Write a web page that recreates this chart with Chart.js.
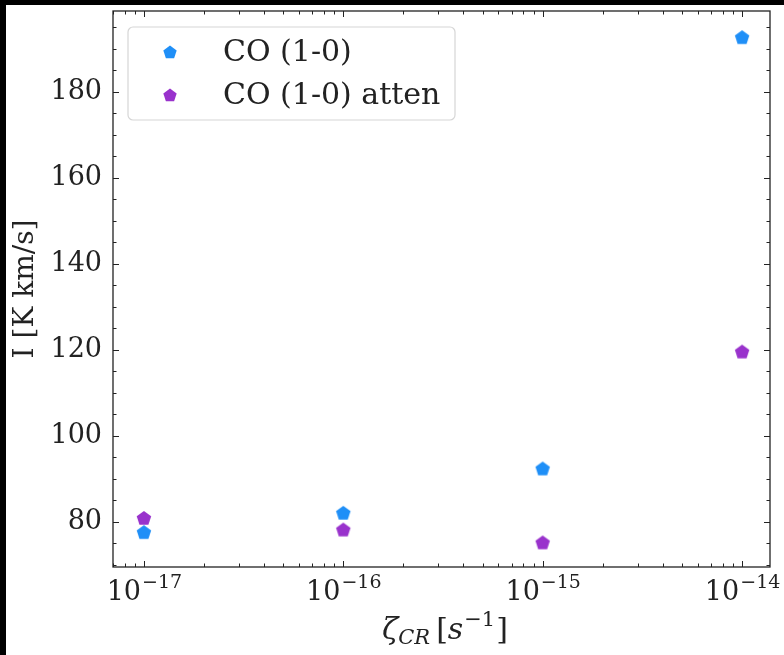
<!DOCTYPE html>
<html>
<head>
<meta charset="utf-8">
<script src="https://cdn.jsdelivr.net/npm/chart.js@4/dist/chart.umd.min.js"></script>
<style>
  html, body { margin: 0; padding: 0; background: #000; }
  #wrap { position: absolute; left: 6px; top: 5px; width: 778px; height: 650px; background: #fff; }
  canvas { display: block; }
</style>
</head>
<body>
<div id="wrap"><canvas id="chart" width="778" height="650"></canvas></div>
<script>
// cosmic-ray ionisation rates (s^-1)
const zetaCR = [1e-17, 1e-16, 1e-15, 1e-14];
// integrated intensity, K km/s
const coLine = [77.6, 82.1, 92.4, 192.7];
const coAtten = [80.9, 78.2, 75.2, 119.6];
const seriesNames = ['CO (1-0)', 'CO (1-0) atten'];
const seriesColors = ['#1f8ff7', '#9932cc'];
const yMajor = [80, 100, 120, 140, 160, 180];
const xDecades = [-17, -16, -15, -14];

const SERIF = '"DejaVu Serif", serif';

function pentagon(color, r) {
  const size = Math.ceil(r * 2 + 2);
  const c = document.createElement('canvas');
  c.width = size; c.height = size;
  const g = c.getContext('2d');
  g.fillStyle = color;
  g.beginPath();
  for (let i = 0; i < 5; i++) {
    const a = -Math.PI / 2 + i * 2 * Math.PI / 5;
    const px = size / 2 + r * Math.cos(a);
    const py = size / 2 + 0.6 + r * Math.sin(a);
    if (i === 0) g.moveTo(px, py); else g.lineTo(px, py);
  }
  g.closePath();
  g.fill();
  return c;
}

const markers = seriesColors.map(c => pentagon(c, 7.6));
const legendMarkers = seriesColors.map(c => pentagon(c, 7));

// inward ticks on all four sides, custom tick labels, titles, legend
const framePlugin = {
  id: 'frame',
  afterDraw(chart) {
    const { ctx, chartArea: a, scales: { x, y } } = chart;
    ctx.save();
    ctx.strokeStyle = '#222';
    ctx.lineWidth = 1.3;
    ctx.strokeRect(a.left, a.top, a.right - a.left, a.bottom - a.top);

    ctx.lineWidth = 1;
    const tick = (x1, y1, x2, y2) => {
      ctx.beginPath(); ctx.moveTo(x1, y1); ctx.lineTo(x2, y2); ctx.stroke();
    };
    // y ticks
    for (let v = 70; v <= 195; v += 5) {
      const py = Math.round(y.getPixelForValue(v)) + 0.5;
      if (py < a.top || py > a.bottom) continue;
      const len = v % 20 === 0 ? 6 : 3.5;
      tick(a.left, py, a.left + len, py);
      tick(a.right, py, a.right - len, py);
    }
    // x ticks
    for (let d = -18; d <= -14; d++) {
      for (let m = 1; m <= 9; m++) {
        const v = m * Math.pow(10, d);
        const px = Math.round(x.getPixelForValue(v)) + 0.5;
        if (px < a.left || px > a.right) continue;
        const len = m === 1 ? 6 : 3.5;
        tick(px, a.bottom, px, a.bottom - len);
        tick(px, a.top, px, a.top + len);
      }
    }

    // x tick labels 10^n
    ctx.fillStyle = '#222';
    ctx.textBaseline = 'alphabetic';
    xDecades.forEach(d => {
      const px = x.getPixelForValue(Math.pow(10, d));
      ctx.font = '27px ' + SERIF;
      const wBase = ctx.measureText('10').width;
      const exp = '\u2212' + String(-d);
      ctx.font = '19px ' + SERIF;
      const wExp = ctx.measureText(exp).width;
      const x0 = px - (wBase + wExp) / 2;
      ctx.font = '27px ' + SERIF;
      ctx.textAlign = 'left';
      ctx.fillText('10', x0, 595);
      ctx.font = '19px ' + SERIF;
      ctx.fillText(exp, x0 + wBase + 1, 583);
    });

    // x title
    let cx = 376;
    const base = 634;
    ctx.textAlign = 'left';
    ctx.font = 'italic 30px ' + SERIF;
    ctx.fillText('\u03b6', cx, base); cx += ctx.measureText('\u03b6').width;
    ctx.font = 'italic 21px ' + SERIF;
    ctx.fillText('CR', cx, base + 5); cx += ctx.measureText('CR').width + 6;
    ctx.font = '30px ' + SERIF;
    ctx.fillText('[', cx, base); cx += ctx.measureText('[').width;
    ctx.font = 'italic 30px ' + SERIF;
    ctx.fillText('s', cx, base); cx += ctx.measureText('s').width + 1;
    ctx.font = '21px ' + SERIF;
    ctx.fillText('\u22121', cx, base - 13); cx += ctx.measureText('\u22121').width + 1;
    ctx.font = '30px ' + SERIF;
    ctx.fillText(']', cx, base);

    // y title
    ctx.save();
    ctx.translate(27, (a.top + a.bottom) / 2);
    ctx.rotate(-Math.PI / 2);
    ctx.textAlign = 'center';
    ctx.font = '28px ' + SERIF;
    ctx.fillText('I [K km/s]', 0, 0);
    ctx.restore();

    // legend
    const lx = 122, ly = 22, lw = 327, lh = 93;
    ctx.beginPath();
    ctx.roundRect(lx, ly, lw, lh, 5);
    ctx.fillStyle = 'rgba(255,255,255,0.85)';
    ctx.fill();
    ctx.strokeStyle = '#d6d6d6';
    ctx.lineWidth = 1.2;
    ctx.stroke();
    ctx.font = '30px ' + SERIF;
    ctx.fillStyle = '#222';
    ctx.textBaseline = 'middle';
    seriesNames.forEach((name, i) => {
      const rowY = ly + 25 + i * 43;
      const m = legendMarkers[i];
      ctx.drawImage(m, 164 - m.width / 2, rowY - m.height / 2);
      ctx.fillText(name, 217, rowY + 1);
    });
    ctx.restore();
  }
};

new Chart(document.getElementById('chart'), {
  type: 'scatter',
  data: {
    datasets: [
      {
        label: seriesNames[0],
        data: zetaCR.map((z, i) => ({ x: z, y: coLine[i] })),
        pointStyle: markers[0],
        backgroundColor: seriesColors[0]
      },
      {
        label: seriesNames[1],
        data: zetaCR.map((z, i) => ({ x: z, y: coAtten[i] })),
        pointStyle: markers[1],
        backgroundColor: seriesColors[1]
      }
    ]
  },
  options: {
    responsive: false,
    animation: false,
    layout: { padding: { left: 0, top: 6, right: 14, bottom: 0 } },
    plugins: { legend: { display: false }, tooltip: { enabled: false } },
    scales: {
      x: {
        type: 'logarithmic',
        min: Math.pow(10, -17.145),
        max: Math.pow(10, -13.86),
        grid: { display: false },
        border: { display: false },
        ticks: { display: false },
        afterFit(s) { s.height = 88; s.paddingLeft = 0; s.paddingRight = 0; }
      },
      y: {
        min: 69.5,
        max: 198.8,
        grid: { display: false, drawTicks: false },
        border: { display: false },
        afterBuildTicks(s) { s.ticks = yMajor.map(v => ({ value: v })); },
        ticks: {
          padding: 11,
          color: '#222',
          font: { family: SERIF, size: 27 }
        },
        afterFit(s) { s.width = 107; s.paddingTop = 0; s.paddingBottom = 0; }
      }
    }
  },
  plugins: [framePlugin]
});
</script>
</body>
</html>
